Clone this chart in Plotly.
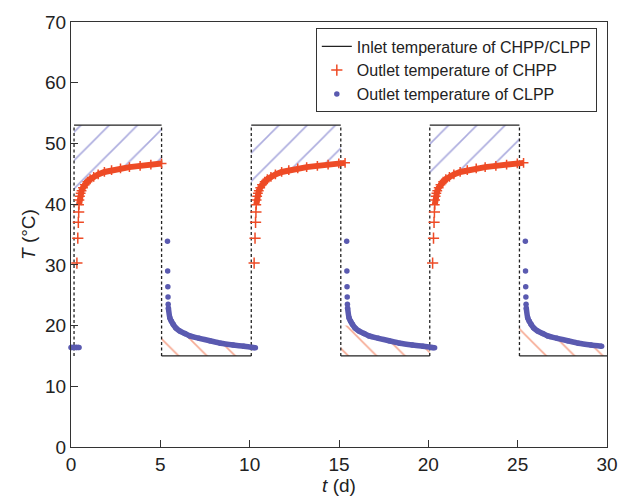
import plotly.graph_objects as go

# ---------------- data ----------------
switch_t = [0.17, 5.07, 10.09, 15.1, 20.08, 25.1]      # inlet switching times (d)
switch_hot = [True, False, True, False, True, False]    # True: hot inlet after switch
t_end = 30
inlet_hot = 53
inlet_cold = 15
lag = 0.28                                               # outlet lag after switch (d)

# CHPP outlet response after a hot switch (offset d, value °C)
chpp_off_discrete = [0.16, 0.21, 0.24, 0.26]
chpp_val_discrete = [30.3, 34.4, 37.0, 38.7]
chpp_off = [0.28, 0.30, 0.33, 0.37, 0.42, 0.50, 0.60, 0.75, 0.90, 1.10, 1.35,
            1.70, 2.10, 2.60, 3.10, 3.70, 4.30, 4.90, 5.25]
chpp_val = [39.9, 40.7, 41.3, 41.8, 42.2, 42.7, 43.2, 43.7, 44.1, 44.5, 44.9,
            45.3, 45.6, 45.9, 46.1, 46.3, 46.5, 46.7, 46.8]

# CLPP outlet response after a cold switch
clpp_off_discrete = [0.33, 0.34, 0.35, 0.36, 0.37]
clpp_val_discrete = [33.9, 29.0, 26.4, 24.7, 23.5]
clpp_off = [0.38, 0.46, 0.55, 0.65, 0.80, 1.02, 1.30, 1.58, 2.10, 2.70, 3.30,
            4.00, 4.60, 5.10, 5.25]
clpp_val = [22.9, 21.3, 20.7, 20.2, 19.6, 19.1, 18.7, 18.3, 17.9, 17.5, 17.1,
            16.8, 16.6, 16.4, 16.35]
clpp_init_t = [0.0, 0.15, 0.3, 0.45]
clpp_init_v = [16.4, 16.4, 16.4, 16.4]

# hatched areas boundaries
hot_hatch_off = [0.0, 0.3, 0.5, 0.75, 1.1, 1.7, 2.6, 3.7, 4.9, 5.1]
hot_hatch_lo = [42.0, 42.4, 43.0, 43.9, 44.7, 45.5, 46.1, 46.5, 46.9, 46.9]
cold_hatch_off = [0.0, 0.62, 0.8, 1.02, 1.58, 2.7, 4.0, 5.1]
cold_hatch_hi = [20.0, 20.0, 19.5, 19.0, 18.2, 17.4, 16.7, 16.3]

RED = "#EE4B26"
BLUE = "#5A5AB0"
HATCH_BLUE = "#5A5ABE"
HATCH_RED = "#EE5326"

fig = go.Figure()

ends = switch_t[1:] + [t_end]

# ---------------- hatched areas ----------------
for t0, t1, hot in zip(switch_t, ends, switch_hot):
    L = t1 - t0
    if hot:
        offs = [o for o in hot_hatch_off if o < L] + [L]
        vals = [v for o, v in zip(hot_hatch_off, hot_hatch_lo) if o < L] + [hot_hatch_lo[-1]]
        xs = [t0, t1] + [t0 + o for o in reversed(offs)]
        ys = [inlet_hot, inlet_hot] + list(reversed(vals))
        fig.add_trace(go.Scatter(x=xs, y=ys, mode="none", fill="toself",
                                 fillcolor="rgba(0,0,0,0)",
                                 fillpattern=dict(shape="/", fgcolor=HATCH_BLUE,
                                                  bgcolor="rgba(0,0,0,0)",
                                                  size=20, solidity=0.08),
                                 showlegend=False, hoverinfo="skip"))
    else:
        offs = [o for o in cold_hatch_off if o < L] + [L]
        vals = [v for o, v in zip(cold_hatch_off, cold_hatch_hi) if o < L]
        vals = vals + [vals[-1]]
        xs = [t0 + o for o in offs] + [t1, t0]
        ys = vals + [inlet_cold, inlet_cold]
        fig.add_trace(go.Scatter(x=xs, y=ys, mode="none", fill="toself",
                                 fillcolor="rgba(0,0,0,0)",
                                 fillpattern=dict(shape="\\", fgcolor=HATCH_RED,
                                                  bgcolor="rgba(0,0,0,0)",
                                                  size=20, solidity=0.08),
                                 showlegend=False, hoverinfo="skip"))

# ---------------- inlet temperature ----------------
hx, hy = [], []
for t0, t1, hot in zip(switch_t, ends, switch_hot):
    lev = inlet_hot if hot else inlet_cold
    hx += [t0, t1, None]
    hy += [lev, lev, None]
vx, vy = [], []
for t0 in switch_t:
    vx += [t0, t0, None]
    vy += [inlet_cold, inlet_hot, None]
fig.add_trace(go.Scatter(x=vx, y=vy, mode="lines",
                         line=dict(color="#222222", width=1.3, dash="3px,2.5px"),
                         showlegend=False, hoverinfo="skip"))
fig.add_trace(go.Scatter(x=hx, y=hy, mode="lines",
                         line=dict(color="#222222", width=1.3),
                         name="Inlet temperature of CHPP/CLPP",
                         legendrank=1))

# ---------------- outlet CHPP ----------------
cx_d, cy_d, cx, cy = [], [], [], []
for t0, t1, hot in zip(switch_t, ends, switch_hot):
    if not hot:
        continue
    cap = min(t1 - t0 + lag, t_end - t0)
    for o, v in zip(chpp_off_discrete, chpp_val_discrete):
        cx_d.append(t0 + o); cy_d.append(v)
    for o, v in zip(chpp_off, chpp_val):
        if o <= cap:
            cx.append(t0 + o); cy.append(v)
    cx.append(None); cy.append(None)
fig.add_trace(go.Scatter(x=cx, y=cy, mode="lines+markers",
                         line=dict(color=RED, width=6),
                         marker=dict(symbol="cross-thin", size=7,
                                     line=dict(color=RED, width=1.5)),
                         showlegend=False, cliponaxis=False, hoverinfo="skip"))
fig.add_trace(go.Scatter(x=cx_d, y=cy_d, mode="markers",
                         marker=dict(symbol="cross-thin", size=8,
                                     line=dict(color=RED, width=1.5)),
                         name="Outlet temperature of CHPP", legendrank=2,
                         cliponaxis=False))

# ---------------- outlet CLPP ----------------
bx_d, by_d = [], []
bx = list(clpp_init_t) + [None]
by = list(clpp_init_v) + [None]
for t0, t1, hot in zip(switch_t, ends, switch_hot):
    if hot:
        continue
    cap = min(t1 - t0 + lag, t_end - t0)
    for o, v in zip(clpp_off_discrete, clpp_val_discrete):
        bx_d.append(t0 + o); by_d.append(v)
    for o, v in zip(clpp_off, clpp_val):
        if o <= cap:
            bx.append(t0 + o); by.append(v)
    bx.append(None); by.append(None)
fig.add_trace(go.Scatter(x=bx, y=by, mode="lines+markers",
                         line=dict(color=BLUE, width=5.5, shape="spline", smoothing=0.6),
                         marker=dict(symbol="circle", size=5.5, color=BLUE),
                         showlegend=False, cliponaxis=False, hoverinfo="skip"))
fig.add_trace(go.Scatter(x=bx_d, y=by_d, mode="markers",
                         marker=dict(symbol="circle", size=5.5, color=BLUE),
                         name="Outlet temperature of CLPP", legendrank=3,
                         cliponaxis=False))

axis_common = dict(showline=True, linecolor="#333333", linewidth=1, mirror=True,
                   ticks="inside", ticklen=7, tickcolor="#333333", tickwidth=1,
                   showgrid=False, zeroline=False,
                   tickfont=dict(family="Liberation Sans, Arial", size=19, color="#222222"))

fig.update_layout(
    width=630, height=503,
    margin=dict(l=71, r=22, t=19, b=56),
    plot_bgcolor="white", paper_bgcolor="white",
    font=dict(family="Liberation Sans, Arial", color="#222222"),
    xaxis=dict(range=[0, 30], tickvals=[0, 5, 10, 15, 20, 25, 30],
               title=dict(text="<i>t</i> (d)", font=dict(size=19), standoff=2),
               **axis_common),
    yaxis=dict(range=[0, 70], tickvals=[0, 10, 20, 30, 40, 50, 60, 70],
               title=dict(text="<i>T</i> (°C)", font=dict(size=19), standoff=4),
               **axis_common),
    legend=dict(x=0.981, y=0.985, xanchor="right", yanchor="top",
                bgcolor="white", bordercolor="#333333", borderwidth=1,
                font=dict(family="Liberation Sans, Arial", size=16, color="#222222"),
                tracegroupgap=0, itemwidth=30),
    showlegend=True,
)

fig.write_html("out.html")
